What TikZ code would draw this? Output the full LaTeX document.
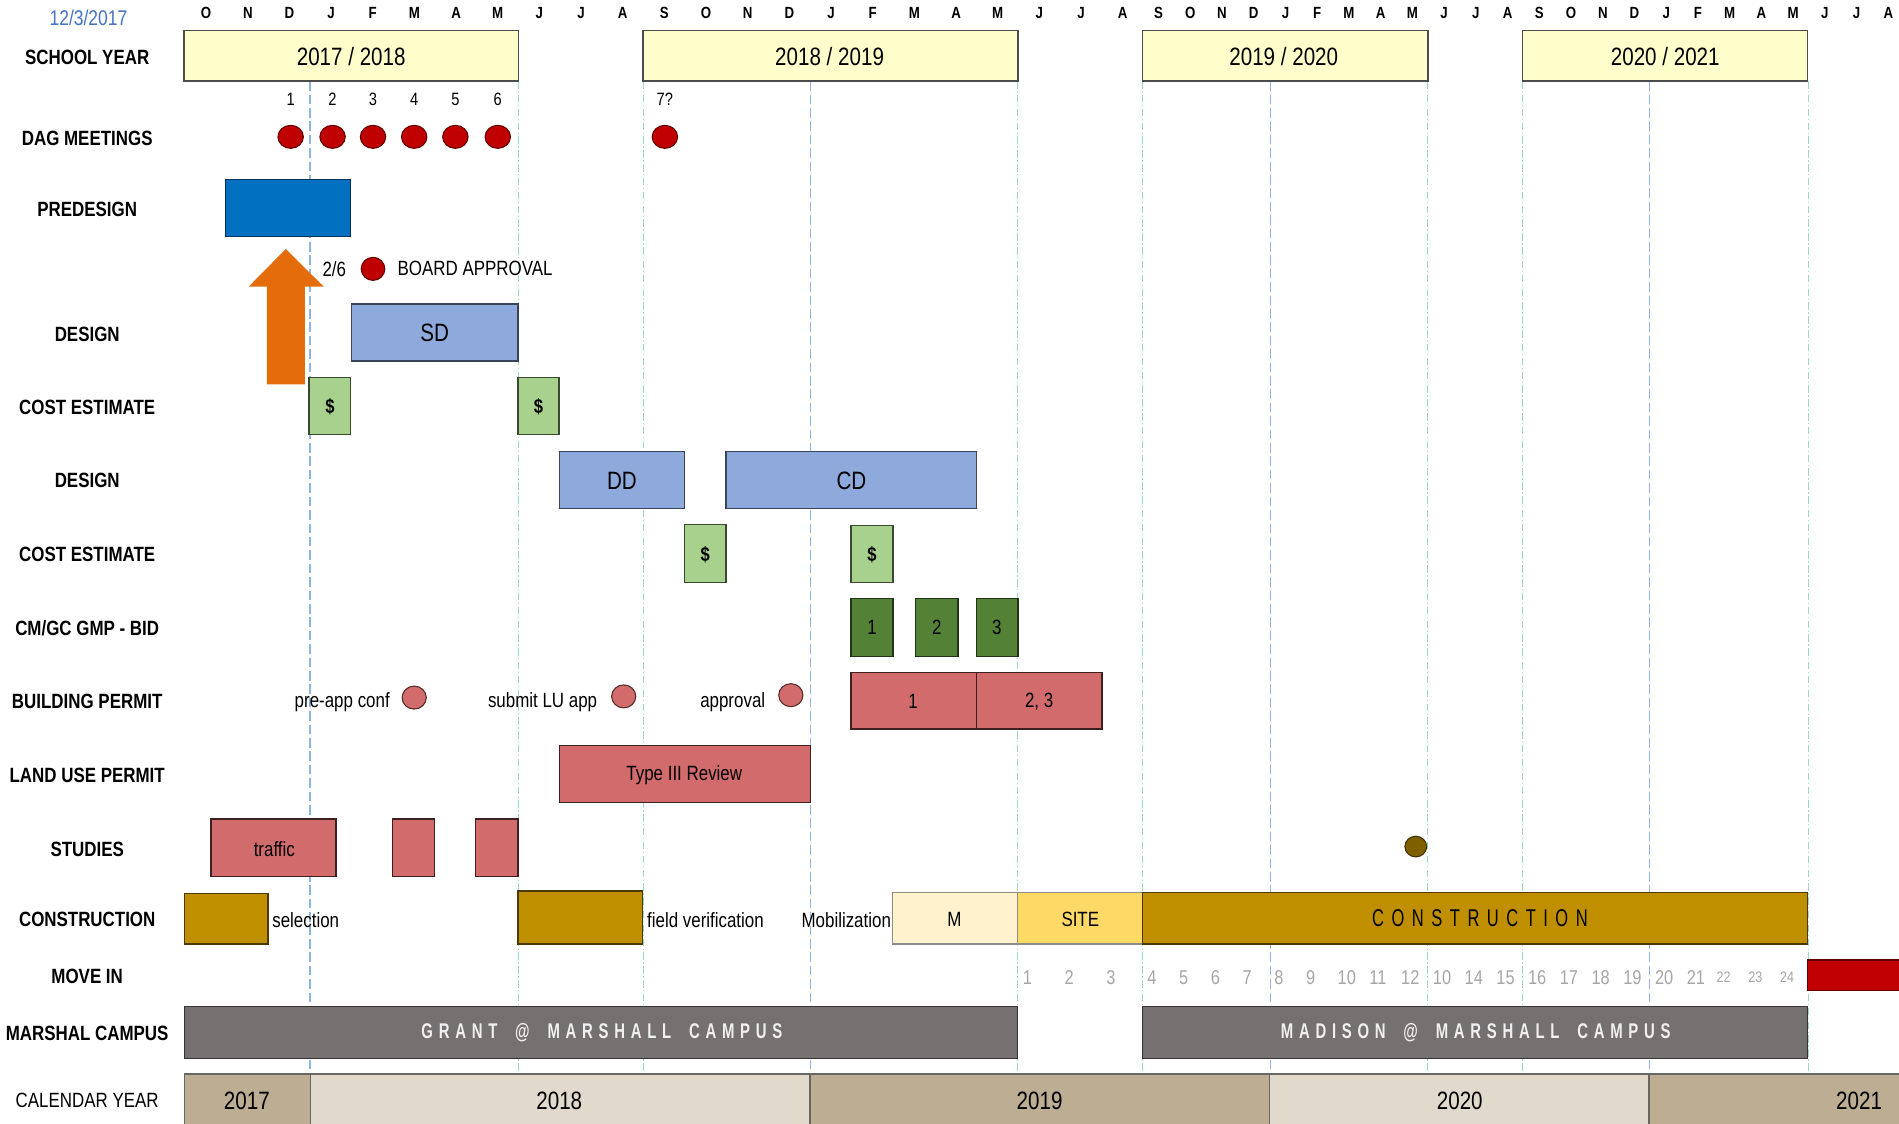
\documentclass[tikz,border=0pt]{standalone}
\usepackage{fontspec}
\setmainfont[FakeStretch=0.82]{Liberation Sans}
\newfontfamily\trackfont[FakeStretch=0.68,LetterSpace=31]{Liberation Sans}
\newfontfamily\campusfont[FakeStretch=0.7,LetterSpace=27,WordSpace=1.8]{Liberation Sans}
\usepackage{tikz}
\usetikzlibrary{shapes.geometric}

\definecolor{dateblue}{HTML}{4472C4}
\definecolor{syfill}{HTML}{FFFFCC}
\definecolor{dagred}{HTML}{C00000}
\definecolor{predesignblue}{HTML}{0070C0}
\definecolor{arroworange}{HTML}{E46C0A}
\definecolor{designblue}{HTML}{8EA9DB}
\definecolor{costgreen}{HTML}{A9D18E}
\definecolor{bidgreen}{HTML}{538135}
\definecolor{permitred}{HTML}{D26B6B}
\definecolor{dotbrown}{HTML}{7F6000}
\definecolor{constgold}{HTML}{BF8F00}
\definecolor{mobcream}{HTML}{FFF2CC}
\definecolor{siteyellow}{HTML}{FFD966}
\definecolor{campusgray}{HTML}{767171}
\definecolor{caltan}{HTML}{BCAD93}
\definecolor{callight}{HTML}{E1DACC}
\definecolor{gridblue}{HTML}{8DB4E2}
\definecolor{gridgreen}{HTML}{9ADBB8}
\definecolor{numgray}{HTML}{A6A6A6}

\begin{document}
\begin{tikzpicture}[x=0.02cm, y=-0.02cm,
  rowlabel/.style={font=\bfseries\fontsize{9.7}{11}\selectfont, inner sep=0pt},
  monthlabel/.style={font=\bfseries\fontsize{7.6}{9}\selectfont, inner sep=0pt},
  txt/.style={font=\fontsize{9.7}{11}\selectfont, inner sep=0pt},
  bigtxt/.style={font=\fontsize{11.8}{13}\selectfont, inner sep=0pt},
  numtxt/.style={font=\fontsize{8.4}{10}\selectfont, inner sep=0pt},
  dollar/.style={font=\bfseries\fontsize{9.5}{11}\selectfont, inner sep=0pt},
  movenum/.style={font=\fontsize{9.4}{10}\selectfont, text=numgray, inner sep=0pt, anchor=west},
  boxline/.style={line width=0.6pt},
  dagdot/.style={ellipse, fill=dagred, draw=dagred!50!black, line width=0.5pt,
    minimum width=0.42cm, minimum height=0.38cm, inner sep=0pt},
  permitdot/.style={dagdot, fill=permitred, draw=permitred!40!black, minimum width=0.40cm},
  campustxt/.style={font=\campusfont\bfseries\fontsize{10}{11}\selectfont, text=white!94!black, inner sep=0pt},
  janline/.style={gridblue, line width=0.6pt, dash pattern=on 4.5pt off 1.8pt},
  termline/.style={gridgreen, line width=0.45pt, dash pattern=on 3.5pt off 1.2pt on 0.6pt off 1.2pt}]

  \useasboundingbox (0,0) rectangle (1568,928);

  % grid: new calendar year (blue) and school terms (green)
  \foreach \gx in {256,669,1049,1362}
    \draw[janline] (\gx,67) -- (\gx,887);
  \foreach \gx in {428,531,840,943,1179,1257,1493}
    \draw[termline] (\gx,67) -- (\gx,887);

  % header
  \node[txt, text=dateblue, font=\fontsize{10}{11}\selectfont] (date) at (73,15) {12/3/2017};
  \foreach \m [count=\k from 0] in {O,N,D,J,F,M,A,M,J,J,A,S,O,N,D,J,F,M,A,M,J,J,A}
    \node[monthlabel] (mon\k) at ({153+34.4*(\k+0.5)},11) {\m};
  \foreach \m [count=\k from 23] in {S,O,N,D,J,F,M,A,M,J,J,A,S,O,N,D,J,F,M,A,M,J,J,A}
    \node[monthlabel] (mon\k) at ({943.5+26.2*(\k-22.5)},11) {\m};

  % row labels
  \node[rowlabel] (lsy) at (72,47) {SCHOOL YEAR};
  \node[rowlabel] (ldag) at (72,114) {DAG MEETINGS};
  \node[rowlabel] (lpre) at (72,173) {PREDESIGN};
  \node[rowlabel] (ldesa) at (72,276) {DESIGN};
  \node[rowlabel] (lcosta) at (72,336) {COST ESTIMATE};
  \node[rowlabel] (ldesb) at (72,397) {DESIGN};
  \node[rowlabel] (lcostb) at (72,458) {COST ESTIMATE};
  \node[rowlabel] (lbid) at (72,519) {CM/GC GMP - BID};
  \node[rowlabel] (lbp) at (72,579) {BUILDING PERMIT};
  \node[rowlabel] (llu) at (72,640) {LAND USE PERMIT};
  \node[rowlabel] (lstud) at (72,701) {STUDIES};
  \node[rowlabel] (lcons) at (72,759) {CONSTRUCTION};
  \node[rowlabel] (lmove) at (72,806) {MOVE IN};
  \node[rowlabel] (lcamp) at (72,853) {MARSHAL CAMPUS};
  \node[txt] (lcal) at (72,909) {CALENDAR YEAR};

  % school years
  \filldraw[boxline, fill=syfill, draw=black!70] (152,25) rectangle (428,67);
  \filldraw[boxline, fill=syfill, draw=black!70] (531,25) rectangle (840.5,67);
  \filldraw[boxline, fill=syfill, draw=black!70] (943.5,25) rectangle (1179,67);
  \filldraw[boxline, fill=syfill, draw=black!70] (1257,25) rectangle (1492.5,67);
  \node[bigtxt] (sya) at (290,47) {2017 / 2018};
  \node[bigtxt] (syb) at (685,47) {2018 / 2019};
  \node[bigtxt] (syc) at (1060,47) {2019 / 2020};
  \node[bigtxt] (syd) at (1375,47) {2020 / 2021};

  % DAG meetings
  \foreach \dx [count=\i] in {240,274.6,308,342,376,411}{
    \node[numtxt] (dagnum\i) at (\dx,82) {\i};
    \node[dagdot] (dag\i) at (\dx,113) {};
  }
  \node[numtxt] (dagnum7) at (549,82) {7?};
  \node[dagdot] (dag7) at (549,113) {};

  % predesign and board approval
  \filldraw[boxline, fill=predesignblue, draw=predesignblue!45!black] (186,148) rectangle (289.5,195.5);
  \node[txt] (bddate) at (276,222) {2/6};
  \node[dagdot, minimum width=0.39cm] (bddot) at (308,222) {};
  \node[txt, anchor=west] (bdtext) at (328,222) {BOARD APPROVAL};
  \fill[arroworange] (220.4,317.3) -- (220.4,236.7) -- (205.3,236.7) -- (236,205.6)
    -- (267.3,236.7) -- (251.8,236.7) -- (251.8,317.3) -- cycle;

  % design and cost estimates
  \filldraw[boxline, fill=designblue, draw=designblue!40!black] (290,251) rectangle (427.6,298);
  \node[bigtxt] (sd) at (359,275) {SD};
  \filldraw[boxline, fill=costgreen, draw=costgreen!35!black] (255.2,312) rectangle (289.5,359);
  \filldraw[boxline, fill=costgreen, draw=costgreen!35!black] (427.6,312) rectangle (461.5,359);
  \node[dollar] (costa) at (272.4,336) {\$};
  \node[dollar] (costb) at (444.6,336) {\$};
  \filldraw[boxline, fill=designblue, draw=designblue!40!black] (461.8,373) rectangle (565,420);
  \filldraw[boxline, fill=designblue, draw=designblue!40!black] (599.5,373) rectangle (806.3,420);
  \node[bigtxt] (dd) at (513.5,397) {DD};
  \node[bigtxt] (cd) at (703,397) {CD};
  \filldraw[boxline, fill=costgreen, draw=costgreen!35!black] (565,433) rectangle (599.5,481);
  \filldraw[boxline, fill=costgreen, draw=costgreen!35!black] (702.6,434) rectangle (737.4,481);
  \node[dollar] (costc) at (582.3,458) {\$};
  \node[dollar] (costd) at (720,458) {\$};

  % CM/GC bids
  \filldraw[boxline, fill=bidgreen, draw=bidgreen!40!black] (702.6,494) rectangle (737.4,542);
  \filldraw[boxline, fill=bidgreen, draw=bidgreen!40!black] (756,494) rectangle (791,542);
  \filldraw[boxline, fill=bidgreen, draw=bidgreen!40!black] (806,494) rectangle (840.5,542);
  \node[txt] (bida) at (720,518) {1};
  \node[txt] (bidb) at (773.5,518) {2};
  \node[txt] (bidc) at (823,518) {3};

  % permits
  \node[txt] (preapp) at (282.6,580) {pre-app conf};
  \node[permitdot] (preappdot) at (342,576) {};
  \node[txt] (submit) at (448,580) {submit LU app};
  \node[permitdot] (submitdot) at (515,575) {};
  \node[txt] (approval) at (605,580) {approval};
  \node[permitdot] (approvaldot) at (653,574) {};
  \filldraw[boxline, fill=permitred, draw=permitred!30!black] (702.6,555.5) rectangle (806,602);
  \filldraw[boxline, fill=permitred, draw=permitred!30!black] (806,555.5) rectangle (910,602);
  \node[txt] (bpa) at (754,579) {1};
  \node[txt] (bpb) at (858,579) {2, 3};
  \filldraw[boxline, fill=permitred, draw=permitred!30!black] (461.8,615.5) rectangle (669,662.8);
  \node[txt] (lureview) at (565,640) {Type III Review};

  % studies
  \filldraw[boxline, fill=permitred, draw=permitred!30!black] (174.3,676.2) rectangle (277.5,723.9);
  \filldraw[boxline, fill=permitred, draw=permitred!30!black] (323.9,676.2) rectangle (359,723.9);
  \filldraw[boxline, fill=permitred, draw=permitred!30!black] (392.8,676.2) rectangle (427.6,723.9);
  \node[txt] (traffic) at (226.5,701) {traffic};
  \node[dagdot, fill=dotbrown, draw=dotbrown!50!black, minimum width=0.36cm, minimum height=0.34cm] (studdot) at (1169,699) {};

  % construction
  \filldraw[boxline, fill=constgold, draw=constgold!40!black] (152.2,737.6) rectangle (221.2,779.5);
  \node[txt, anchor=west] (selection) at (224.5,760) {selection};
  \filldraw[boxline, fill=constgold, draw=constgold!40!black] (427.6,735.7) rectangle (530.8,779.5);
  \node[txt, anchor=west] (fieldver) at (534,760) {field verification};
  \node[txt, anchor=east] (mobil) at (736,760) {Mobilization};
  \filldraw[boxline, fill=mobcream, draw=black!45] (737.2,737) rectangle (840.4,779.5);
  \node[txt] (mob) at (788,759) {M};
  \filldraw[boxline, fill=siteyellow, draw=black!45] (840.4,737) rectangle (943.4,779.5);
  \node[txt] (site) at (892,759) {SITE};
  \filldraw[boxline, fill=constgold, draw=constgold!40!black] (943.4,737) rectangle (1492.6,779.5);
  \node[font=\trackfont\fontsize{11.4}{13}\selectfont, inner sep=0pt] (cons) at (1222,758) {CONSTRUCTION};

  % move in: months of construction
  \foreach \n [count=\i from 1] in {1,2,3}
    \node[movenum] (mv\i) at ({841+34.4*(\i-1)+3.3},807) {\n};
  \foreach \n [count=\i from 4] in {4,5,6,7,8,9,10,11,12,10,14,15,16,17,18,19,20,21}
    \node[movenum] (mv\i) at ({943.5+26.2*(\i-4)+3.5},807) {\n};
  \foreach \n [count=\i from 22] in {22,23,24}
    \node[movenum, font=\fontsize{7.2}{8}\selectfont] (mv\i) at ({943.5+26.2*(\i-4)+2},807) {\n};
  \filldraw[boxline, fill=dagred, draw=dagred!50!black] (1492.6,792.7) rectangle (1575,818);

  % campus
  \filldraw[boxline, fill=campusgray, draw=campusgray!45!black] (152.2,831.2) rectangle (840.4,873.9);
  \filldraw[boxline, fill=campusgray, draw=campusgray!45!black] (943.4,831.2) rectangle (1492.6,873.9);
  \node[campustxt] (grant) at (497,853) {GRANT @ MARSHALL CAMPUS};
  \node[campustxt] (madison) at (1218.5,853) {MADISON @ MARSHALL CAMPUS};

  % calendar years
  \filldraw[boxline, fill=caltan, draw=black!60] (152.2,886.8) rectangle (256.2,935);
  \filldraw[boxline, fill=callight, draw=black!60] (256.2,886.8) rectangle (668.8,935);
  \filldraw[boxline, fill=caltan, draw=black!60] (668.8,886.8) rectangle (1048.3,935);
  \filldraw[boxline, fill=callight, draw=black!60] (1048.3,886.8) rectangle (1361.6,935);
  \filldraw[boxline, fill=caltan, draw=black!60] (1361.6,886.8) rectangle (1575,935);
  \node[bigtxt] (cya) at (203.8,909) {2017};
  \node[bigtxt] (cyb) at (461.8,909) {2018};
  \node[bigtxt] (cyc) at (858.4,909) {2019};
  \node[bigtxt] (cyd) at (1205.3,909) {2020};
  \node[bigtxt] (cye) at (1535,909) {2021};
\end{tikzpicture}
\end{document}
